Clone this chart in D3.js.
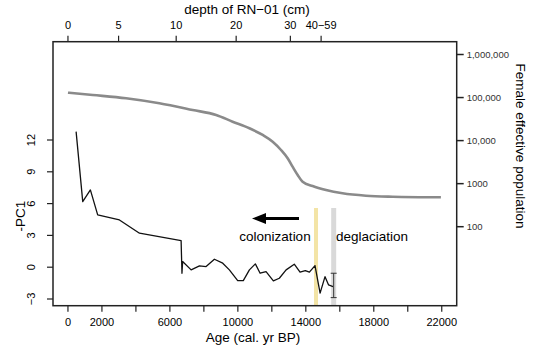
<!DOCTYPE html>
<html><head><meta charset="utf-8">
<script src="https://cdn.jsdelivr.net/npm/d3@7"></script>
<style>body{margin:0;background:#fff}svg{display:block;font-family:"Liberation Sans",Arial,sans-serif}</style>
</head><body>
<script>
// PC1 series (age in cal. yr BP, -PC1)
const pcAge = [480, 870, 1320, 1750, 3030, 4210, 6660, 6710, 6750, 7250, 7740, 8130, 8620, 9110, 9500, 9990, 10320, 10680, 11030, 11310, 11660, 12090, 12440, 12840, 13320, 13660, 13970, 14210, 14540, 14840, 15130, 15340, 15600];
const pcVal = [12.79, 6.19, 7.29, 4.93, 4.46, 3.21, 2.51, -0.57, 0.53, -0.25, 0.12, 0.06, 0.75, 0.38, -0.25, -1.26, -1.26, -0.25, 0.31, -0.57, -0.42, -1.29, -1.04, -0.25, 0.28, -0.47, -0.32, -0.47, 0.15, -2.45, -0.89, -1.67, -1.83];
// error bar on last point
const errAge = [15640];
const errLow = [-2.87];
const errHigh = [-0.57];
// Female effective population curve
const neAge = [0, 1460, 3420, 5380, 7340, 8720, 9690, 10680, 11460, 12050, 12540, 12930, 13220, 13520, 13810, 14400, 15190, 16160, 17540, 19110, 21950];
const neVal = [129700, 114600, 96100, 73500, 51400, 39400, 27500, 19300, 13500, 9420, 6050, 3880, 2480, 1590, 1110, 880, 711, 597, 525, 498, 482];
// axes
const ageTicks = [0, 2000, 4000, 6000, 8000, 10000, 12000, 14000, 16000, 18000, 20000, 22000];
const ageLabels = [0, 2000, 6000, 10000, 14000, 18000, 22000];
const pcTicks = [-3, 0, 3, 6, 9, 12];
const neTicks = [100, 1000, 10000, 100000, 1000000];
const neTickLabels = ["100", "1000", "10,000", "100,000", "1,000,000"];
const depthLabels = ["0", "5", "10", "20", "30", "40\u221259"];
const depthAges = [0, 2980, 6370, 9900, 13090, 14900];
// event markers
const colonizationAge = [14600];
const deglaciationAge = [15640];

const W = 541, H = 345;
const svg = d3.select("body").append("svg").attr("width", W).attr("height", H);
svg.append("rect").attr("width", W).attr("height", H).attr("fill", "#fff");

const box = {l: 53, r: 456.7, t: 41.7, b: 305.7};
const x = d3.scaleLinear().domain([-880, 22880]).range([box.l, box.r]);
const y = d3.scaleLinear().domain([-3, 12]).range([299, 140]);
const yNe = d3.scaleLog().domain([100, 1000000]).range([226.7, 54.5]);

// bands
svg.append("rect").attr("x", x(colonizationAge[0]) - 2).attr("y", 208).attr("width", 4)
  .attr("height", box.b - 208).attr("fill", "#f3e4a6");
svg.append("rect").attr("x", x(deglaciationAge[0]) - 2.5).attr("y", 208).attr("width", 5)
  .attr("height", box.b - 208).attr("fill", "#d9d9d9");

// Ne curve
svg.append("path").datum(neAge.map((a, i) => [a, neVal[i]]))
  .attr("d", d3.line().x(d => x(d[0])).y(d => yNe(d[1])).curve(d3.curveMonotoneX))
  .attr("fill", "none").attr("stroke", "#8a8a8a").attr("stroke-width", 2.6);

// PC1 line
svg.append("path").datum(pcAge.map((a, i) => [a, pcVal[i]]))
  .attr("d", d3.line().x(d => x(d[0])).y(d => y(d[1])))
  .attr("fill", "none").attr("stroke", "#111").attr("stroke-width", 1.3).attr("stroke-linejoin", "round");

// error bar
const ex = x(errAge[0]);
const eg = svg.append("g").attr("stroke", "#333").attr("stroke-width", 1);
eg.append("line").attr("x1", ex).attr("x2", ex).attr("y1", y(errLow[0])).attr("y2", y(errHigh[0]));
eg.append("line").attr("x1", ex - 3).attr("x2", ex + 3).attr("y1", y(errLow[0])).attr("y2", y(errLow[0]));
eg.append("line").attr("x1", ex - 3).attr("x2", ex + 3).attr("y1", y(errHigh[0])).attr("y2", y(errHigh[0]));

// arrow
svg.append("line").attr("x1", 299).attr("x2", 264).attr("y1", 218.5).attr("y2", 218.5)
  .attr("stroke", "#000").attr("stroke-width", 3);
svg.append("path").attr("d", "M252,218.5 L266,213 L266,224 Z").attr("fill", "#000");

svg.append("text").attr("x", 275).attr("y", 241).attr("text-anchor", "middle")
  .attr("font-size", 13.5).text("colonization");
svg.append("text").attr("x", 336).attr("y", 241).attr("text-anchor", "start")
  .attr("font-size", 13.5).text("deglaciation");

// box
svg.append("rect").attr("x", box.l).attr("y", box.t).attr("width", box.r - box.l).attr("height", box.b - box.t)
  .attr("fill", "none").attr("stroke", "#222").attr("stroke-width", 1.5);

// bottom axis
const bx = svg.append("g");
ageTicks.forEach(t => {
  bx.append("line").attr("x1", x(t)).attr("x2", x(t)).attr("y1", box.b).attr("y2", box.b + 6)
    .attr("stroke", "#222").attr("stroke-width", 1.2);
});
ageLabels.forEach(t => {
  bx.append("text").attr("x", x(t)).attr("y", 326).attr("text-anchor", "middle").attr("font-size", 11).text(t);
});
svg.append("text").attr("x", 253).attr("y", 342).attr("text-anchor", "middle").attr("font-size", 13.5).text("Age (cal. yr BP)");

// left axis
pcTicks.forEach(t => {
  svg.append("line").attr("x1", box.l - 6).attr("x2", box.l).attr("y1", y(t)).attr("y2", y(t))
    .attr("stroke", "#222").attr("stroke-width", 1.2);
  svg.append("text").attr("transform", `translate(35,${y(t)}) rotate(-90)`).attr("text-anchor", "middle")
    .attr("font-size", 11).text(t < 0 ? "\u2212" + Math.abs(t) : t);
});
svg.append("text").attr("transform", "translate(25,216) rotate(-90)").attr("text-anchor", "middle")
  .attr("font-size", 13.5).text("-PC1");

// top axis
depthAges.forEach((a, i) => {
  svg.append("line").attr("x1", x(a)).attr("x2", x(a)).attr("y1", box.t).attr("y2", box.t - 6)
    .attr("stroke", "#222").attr("stroke-width", 1.2);
  svg.append("text").attr("x", x(a)).attr("y", 29).attr("text-anchor", "middle").attr("font-size", 11).text(depthLabels[i]);
});
svg.append("text").attr("x", 247).attr("y", 14).attr("text-anchor", "middle").attr("font-size", 13.5).text("depth of RN\u221201 (cm)");

// right axis
neTicks.forEach((t, i) => {
  svg.append("line").attr("x1", box.r).attr("x2", box.r + 7).attr("y1", yNe(t)).attr("y2", yNe(t))
    .attr("stroke", "#222").attr("stroke-width", 1.5);
  svg.append("text").attr("x", box.r + 10).attr("y", yNe(t) + 3.5).attr("font-size", 9.5).attr("fill", "#333").text(neTickLabels[i]);
});
svg.append("text").attr("transform", "translate(516,146) rotate(90)").attr("text-anchor", "middle")
  .attr("font-size", 13.5).text("Female effective population");
</script>
</body></html>
